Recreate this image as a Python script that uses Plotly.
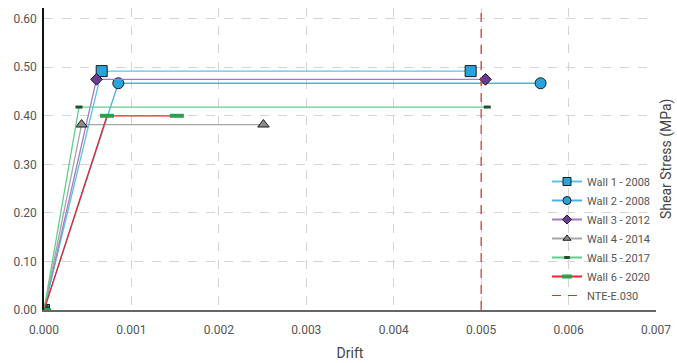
import plotly.graph_objects as go

names = ["Wall 1 - 2008", "Wall 2 - 2008", "Wall 3 - 2012", "Wall 4 - 2014", "Wall 5 - 2017", "Wall 6 - 2020"]
drift = [
    [0.0, 0.00066, 0.00488],
    [0.0, 0.00085, 0.00568],
    [0.0, 0.00060, 0.00505],
    [0.0, 0.00043, 0.00251],
    [0.0, 0.00040, 0.00507],
    [0.0, 0.00072, 0.00152],
]
stress = [
    [0.0, 0.492, 0.492],
    [0.0, 0.467, 0.467],
    [0.0, 0.475, 0.475],
    [0.0, 0.382, 0.382],
    [0.0, 0.418, 0.418],
    [0.0, 0.400, 0.400],
]
line_colors = ["#5bc2e7", "#4bb3e3", "#a07cc5", "#a6a6a6", "#5fcf8b", "#e8262a"]
marker_fill = ["#29a3dc", "#29a3dc", "#6b3a98", "#8c8c8c", "#1f4f2f", "#2e9e4f"]
symbols = ["square", "circle", "diamond", "triangle-up", "line-ew", "line-ew"]
sizes = [11, 11, 9, 10, 5, 10]
legend_sizes = [8, 8, 7, 7, 4, 7]
mline_w = [1, 1, 1, 1, 3, 4]

limit_x = [0.005, 0.005]
limit_y = [0.0, 0.622]

fig = go.Figure()
for i, n in enumerate(names):
    is_dash = symbols[i] == "line-ew"
    fig.add_trace(go.Scatter(
        x=drift[i], y=stress[i], name=n, mode="lines+markers", showlegend=False,
        legendgroup=n,
        line=dict(color=line_colors[i], width=1.3),
        marker=dict(symbol=symbols[i], size=sizes[i], color=marker_fill[i],
                    line=dict(color=marker_fill[i] if is_dash else "#1a1a1a", width=mline_w[i])),
    ))
    # legend entry (smaller symbol, like the reference legend)
    fig.add_trace(go.Scatter(
        x=[None], y=[None], name=n, mode="lines+markers", legendgroup=n,
        line=dict(color=line_colors[i], width=2),
        marker=dict(symbol=symbols[i], size=legend_sizes[i], color=marker_fill[i],
                    line=dict(color=marker_fill[i] if is_dash else "#1a1a1a",
                              width=mline_w[i] if is_dash else 1)),
    ))

fig.add_trace(go.Scatter(
    x=limit_x, y=limit_y, name="NTE-E.030", mode="lines",
    line=dict(color="#c0392b", width=1.2, dash="9px,7px"),
))

fig.update_layout(
    width=677, height=363,
    margin=dict(l=44, r=21, t=8, b=53, autoexpand=False),
    paper_bgcolor="white", plot_bgcolor="white",
    font=dict(family="Roboto", color="#444", size=12),
    showlegend=True,
    legend=dict(x=1, xanchor="right", y=0.0, yanchor="bottom",
                bgcolor="rgba(0,0,0,0)", font=dict(size=11, color="#555"),
                itemwidth=30, tracegroupgap=0),
    xaxis=dict(range=[0, 0.007], dtick=0.001, tickformat=".3f", automargin=False,
               showgrid=True, gridcolor="#d4d4d4", griddash="dash",
               zeroline=False, showline=True, linecolor="#666", linewidth=2,
               ticks="", ticklabelstandoff=8,
               title=dict(text="Drift", font=dict(size=14, color="#444"), standoff=12),
               tickfont=dict(size=12, color="#555")),
    yaxis=dict(range=[0, 0.622], dtick=0.1, tickformat=".2f", automargin=False,
               showgrid=True, gridcolor="#d4d4d4", griddash="dash",
               zeroline=False, showline=True, linecolor="#111", linewidth=1.5,
               ticks="", ticklabelstandoff=3, tickfont=dict(size=12, color="#555")),
    annotations=[dict(text="Shear Stress (MPa)", x=1, y=0.5, xref="paper", yref="paper",
                      xanchor="center", yanchor="middle", xshift=10, textangle=-90,
                      showarrow=False, font=dict(size=14, color="#444"))],
)

fig.write_html("out.html", config={"displayModeBar": False},
               post_script="document.body.style.margin='0';document.body.style.overflow='hidden';")
